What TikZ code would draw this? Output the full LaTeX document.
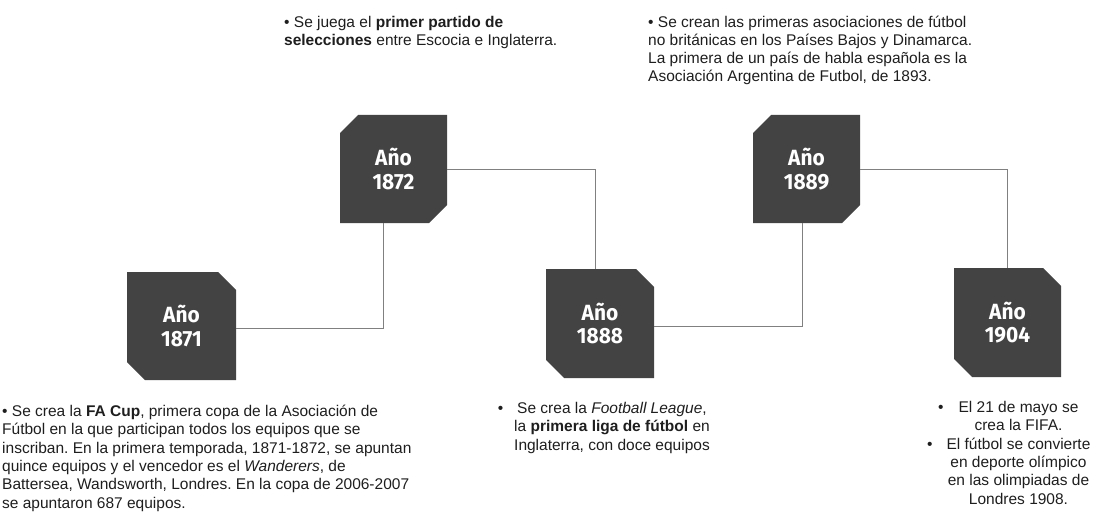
\documentclass[tikz,border=0pt]{standalone}
\usepackage{fontspec}
\setmainfont{Liberation Sans}
\newfontfamily\boxfont[FakeStretch=0.95]{Fira Sans}
\usetikzlibrary{calc}
\definecolor{boxgray}{RGB}{67,67,67}
\definecolor{linegray}{RGB}{128,128,128}
\definecolor{txt}{RGB}{30,30,30}
\frenchspacing
\tikzset{
  yearbox/.style={inner sep=0pt, text=white, align=center,
    font=\boxfont\bfseries\fontsize{22}{23.5}\selectfont},
  cutA/.style={path picture={\fill[boxgray]
      (path picture bounding box.north west)
      -- ([xshift=-18pt]path picture bounding box.north east)
      -- ([yshift=-18pt]path picture bounding box.north east)
      -- (path picture bounding box.south east)
      -- ([xshift=18pt]path picture bounding box.south west)
      -- ([yshift=18pt]path picture bounding box.south west) -- cycle;}},
  cutB/.style={path picture={\fill[boxgray]
      ([yshift=-18pt]path picture bounding box.north west)
      -- ([xshift=18pt]path picture bounding box.north west)
      -- (path picture bounding box.north east)
      -- ([yshift=18pt]path picture bounding box.south east)
      -- ([xshift=-18pt]path picture bounding box.south east)
      -- (path picture bounding box.south west) -- cycle;}},
  conn/.style={draw=linegray, line width=0.9pt},
  body/.style={inner sep=0pt, text=txt, font=\fontsize{15.5}{18.3}\selectfont},
}
\begin{document}
\begin{tikzpicture}[x=1pt,y=-1pt]
\useasboundingbox (0,0) rectangle (1093,516);

% year boxes
\node[yearbox,cutA,minimum width=109pt,minimum height=108pt] (b1871) at (181.5,326) {Año\\1871};
\node[yearbox,cutB,minimum width=107pt,minimum height=108pt] (b1872) at (393.5,169) {Año\\1872};
\node[yearbox,cutA,minimum width=108pt,minimum height=109pt] (b1888) at (600,323.5) {Año\\1888};
\node[yearbox,cutB,minimum width=107pt,minimum height=108pt] (b1889) at (806.5,169) {Año\\1889};
\node[yearbox,cutA,minimum width=107pt,minimum height=109pt] (b1904) at (1007.5,322.5) {Año\\1904};

% connectors
\draw[conn] ([yshift=-2pt]b1871.east) -| ([xshift=-10.5pt]b1872.south);
\draw[conn] (b1872.east) -| ([xshift=-5pt]b1888.north);
\draw[conn] ([yshift=-2.5pt]b1888.east) -| ([xshift=-4.5pt]b1889.south);
\draw[conn] (b1889.east) -| (b1904.north);

% texts (anchor base = baseline of the last line)
\node[body,align=left,anchor=base west] (t1871) at (2,508)
 {• Se crea la \textbf{FA Cup}, primera copa de la Asociación de\\
  Fútbol en la que participan todos los equipos que se\\
  inscriban. En la primera temporada, 1871-1872, se apuntan\\
  quince equipos y el vencedor es el \textit{Wanderers}, de\\
  Battersea, Wandsworth, Londres. En la copa de 2006-2007\\
  se apuntaron 687 equipos.};

\node[body,align=left,anchor=base west] (t1872) at (284,45.5)
 {• Se juega el \textbf{primer partido de}\\
  \textbf{selecciones} entre Escocia e Inglaterra.};

\node[body,align=left,anchor=base west] (t1889) at (648,82)
 {• Se crean las primeras asociaciones de fútbol\\
  no británicas en los Países Bajos y Dinamarca.\\
  La primera de un país de habla española es la\\
  Asociación Argentina de Futbol, de 1893.};

\node[body,align=center,anchor=base] (t1888) at (612,450)
 {\llap{•\hspace{14pt}}Se crea la \textit{Football League},\\
  la \textbf{primera liga de fútbol} en\\
  Inglaterra, con doce equipos};

\node[body,align=center,anchor=base] (t1904) at (1018.5,504)
 {\llap{•\hspace{15pt}}El 21 de mayo se\\
  crea la FIFA.\\
  \llap{•\hspace{14pt}}El fútbol se convierte\\
  en deporte olímpico\\
  en las olimpiadas de\\
  Londres 1908.};
\end{tikzpicture}
\end{document}
